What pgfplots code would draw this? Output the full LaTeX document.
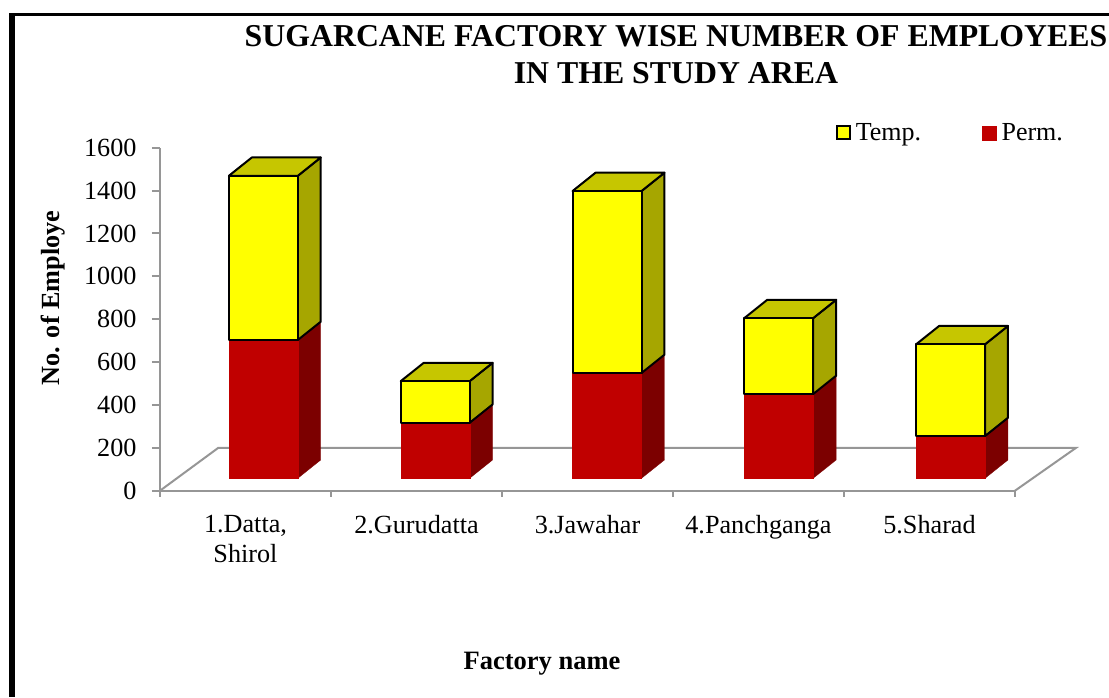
\documentclass[border=0pt]{standalone}
\usepackage{pgfplots}
\pgfplotsset{compat=1.18}
\usepackage{fontspec}
\setmainfont{Liberation Serif}
\definecolor{axgray}{HTML}{969696}
\definecolor{yfront}{HTML}{FFFF00}
\definecolor{ytop}{HTML}{C6C600}
\definecolor{yside}{HTML}{A6A600}
\definecolor{rfront}{HTML}{C00000}
\definecolor{rside}{HTML}{7C0000}
% left edge (axis x), permanent, temporary
\newcommand\FBar[3]{%
  \pgfmathsetmacro\xa{#1}\pgfmathsetmacro\xb{#1+0.403}\pgfmathsetmacro\xc{#1+0.403+0.134}\pgfmathsetmacro\xd{#1+0.134}%
  \pgfmathsetmacro\ya{58}\pgfmathsetmacro\yb{58+#2}\pgfmathsetmacro\yc{58+#2+#3}%
  \pgfmathsetmacro\yaa{\ya+85.4}\pgfmathsetmacro\ybb{\yb+85.4}\pgfmathsetmacro\ycc{\yc+85.4}%
  \addplot[forget plot,fill=rside,draw=rside,line width=0.3pt] coordinates {(\xb,\ya)(\xc,\yaa)(\xc,\ybb)(\xb,\yb)} --cycle;
  \addplot[forget plot,fill=rfront,draw=rfront,line width=0.3pt] coordinates {(\xa,\ya)(\xb,\ya)(\xb,\yb)(\xa,\yb)} --cycle;
  \addplot[forget plot,fill=yside,draw=black,line width=2pt,line join=round] coordinates {(\xb,\yb)(\xc,\ybb)(\xc,\ycc)(\xb,\yc)} --cycle;
  \addplot[forget plot,fill=ytop,draw=black,line width=2pt,line join=round] coordinates {(\xa,\yc)(\xb,\yc)(\xc,\ycc)(\xd,\ycc)} --cycle;
  \addplot[forget plot,fill=yfront,draw=black,line width=2pt,line join=round] coordinates {(\xa,\yb)(\xb,\yb)(\xb,\yc)(\xa,\yc)} --cycle;
}
\begin{document}
\begin{tikzpicture}[x=1pt,y=1pt]
\useasboundingbox (0,0) rectangle (1109,697);
\fill[black] (9,0) rectangle (15,684);
\fill[black] (9,681) rectangle (1109,684);
\begin{axis}[
  at={(160pt,206.3pt)},anchor=south west,
  scale only axis,width=855pt,height=343pt,
  xmin=0,xmax=5,ymin=0,ymax=1600,
  clip=false,
  axis lines*=left,
  axis line style={-,draw=axgray,line width=2pt},
  tick align=outside,
  every tick/.style={draw=axgray,line width=2pt},
  major tick length=8pt,minor tick length=6pt,
  xtick={0.5,1.5,2.5,3.5,4.5},
  minor xtick={0,1,2,3,4,5},
  major x tick style={draw=none},
  xticklabels={{1.Datta,\\Shirol},2.Gurudatta,3.Jawahar,4.Panchganga,5.Sharad},
  ytick={0,200,...,1600},
  /pgf/number format/assume math mode=true,
  /pgf/number format/1000 sep={},
  ticklabel style={font=\fontsize{26.2pt}{30pt}\selectfont},
  x tick label style={align=center,anchor=north,yshift=-13pt},
  y tick label style={anchor=east,xshift=-12pt},
  title={SUGARCANE FACTORY WISE NUMBER OF EMPLOYEES\\IN THE STUDY AREA},
  title style={at={(axis description cs:0.6035,1.254)},anchor=center,align=center,font=\fontsize{31.8pt}{37.5pt}\selectfont\bfseries},
  xlabel={Factory name},
  xlabel style={at={(axis description cs:0.4468,-0.505)},anchor=center,font=\fontsize{26.5pt}{30pt}\selectfont\bfseries},
  ylabel={No. of Employe},
  ylabel style={at={(axis description cs:-0.1245,0.5618)},anchor=center,font=\fontsize{26.2pt}{30pt}\selectfont\bfseries},
  legend columns=2,
  legend style={at={(axis description cs:0.79,1.043)},anchor=west,draw=none,fill=none,
    font=\fontsize{26pt}{30pt}\selectfont,inner sep=0pt,
    /tikz/every even column/.append style={column sep=59pt}},
]
\addplot[forget plot,draw=axgray,line width=2pt] coordinates {(0,0)(0.341,200)(5.357,200)(5,0)};
\FBar{0.403}{645}{766}
\FBar{1.408}{259}{194}
\FBar{2.413}{491}{849}
\FBar{3.417}{393}{354}
\FBar{4.422}{197}{428}
\addlegendimage{legend image code/.code={\draw[fill=yfront,draw=black,line width=2pt] (0pt,-6.5pt) rectangle (13pt,6.5pt);\path (17pt,0pt);}}
\addlegendentry{Temp.}
\addlegendimage{legend image code/.code={\fill[rfront] (0pt,-7pt) rectangle (14pt,7pt);\path (17pt,0pt);}}
\addlegendentry{Perm.}
\end{axis}
\end{tikzpicture}
\end{document}
